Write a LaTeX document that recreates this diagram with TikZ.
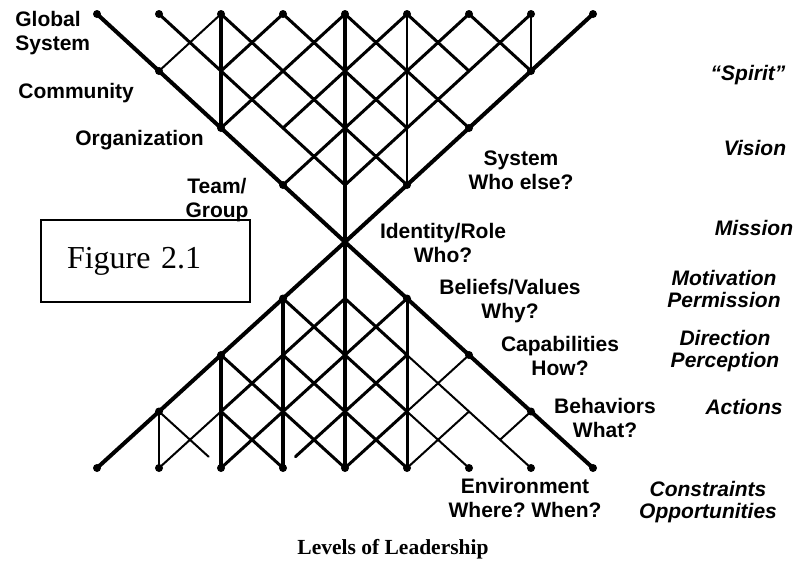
\documentclass[tikz,border=0pt]{standalone}
\usepackage{fontspec}
\setmainfont{Liberation Serif}
\newfontfamily\lvlfont{Liberation Sans}
\usetikzlibrary{positioning}
\frenchspacing
\tikzset{
    rim/.style={line width=2pt, line cap=round},
    mesh/.style={line width=1.5pt, line cap=round},
    thinmesh/.style={line width=1pt, line cap=round},
    stem/.style={line width=2.3pt},
    dot/.style={circle, fill, inner sep=0pt, minimum size=4pt},
    lvltext/.style={font=\lvlfont\bfseries\fontsize{10.5}{12}\selectfont, align=center, inner sep=0pt},
    effecttext/.style={font=\lvlfont\bfseries\itshape\fontsize{10.5}{11}\selectfont, align=center, inner sep=0pt},
    figbox/.style={draw, line width=0.8pt, text width=78.5pt, inner xsep=13pt, minimum height=41pt, align=left, font=\fontsize{16}{19}\selectfont},
    caption/.style={font=\bfseries\fontsize{10.75}{12}\selectfont, inner sep=0pt}
}

\begin{document}
\begin{tikzpicture}[x=0.5pt, y=-0.5pt]
\useasboundingbox (0,0) rectangle (797,574);
\coordinate (mid) at (345,242);

% upper half, levels going up
\begin{scope}[shift={(mid)}, x=31pt, y=28.5pt]
    \draw[rim] (-4,4) -- (0,0) -- (4,4);
    \foreach \c in {1,...,5} {
        \pgfmathtruncatemacro\h{floor(\c/2)}
        \draw[mesh] (\c-4,4) -- (\h,\c-\h);
        \draw[mesh] (4-\c,4) -- (-\h,\c-\h);
    }
    \draw[mesh] (2,4) -- (3,3);
    \draw[thinmesh] (-2,4) -- (-3,3);
    \draw[stem] (0,4) -- (0,0);
    \draw[stem] (-2,4) -- (-2,2);
    \draw[thinmesh] (1,4) -- (1,1);
    \draw[thinmesh] (3,4) -- (3,3);
    \foreach \i in {-4,...,4}
        \node[dot] (top\i) at (\i,4) {};
    \foreach \i in {1,2,3} {
        \node[dot] (ul\i) at (-\i,\i) {};
        \node[dot] (ur\i) at (\i,\i) {};
    }
\end{scope}

% lower half, levels going down
\begin{scope}[shift={(mid)}, x=31pt, y=-28.25pt]
    \draw[rim] (-4,4) -- (0,0) -- (4,4);
    \foreach \ax/\ay/\bx/\by in {0/1/1/2, -1/1/1/3, -1/2/1/4, -2/2/0/4, -2/3/-1/4,
                                 0/1/-2/3, 1/1/-2/4, 1/3/0/4}
        \draw[mesh] (\ax,\ay) -- (\bx,\by);
    \foreach \ax/\ay/\bx/\by in {1/2/3/4, 1/3/2/4, 2/2/1/3, 2/3/1/4, -2/3/-3/4}
        \draw[thinmesh] (\ax,\ay) -- (\bx,\by);
    \draw[mesh] (1,2) -- (-0.8,3.8);
    \draw[thinmesh] (-3,3) -- (-2.2,3.8);
    \draw[thinmesh] (3,3) -- (2.5,3.5);
    \draw[stem] (0,0) -- (0,4);
    \draw[stem] (-1,1) -- (-1,4);
    \draw[stem] (-2,2) -- (-2,4);
    \draw[mesh] (1,1) -- (1,4);
    \draw[thinmesh] (-3,3) -- (-3,4);
    \foreach \i in {-4,...,4}
        \node[dot] (bot\i) at (\i,4) {};
    \foreach \i in {1,2,3} {
        \node[dot] (ll\i) at (-\i,\i) {};
        \node[dot] (lr\i) at (\i,\i) {};
    }
\end{scope}

% levels
\node[lvltext, anchor=west, align=left] (global) at (15,33) {Global\\System};
\node[lvltext, anchor=west] (community) at (18,93) {Community};
\node[lvltext, anchor=west] (organization) at (75,140) {Organization};
\node[lvltext] (team) at (217,200) {Team/\\Group};
\node[lvltext] (system) at (521,170) {System\\Who else?};
\node[lvltext] (identity) at (443,243) {Identity/Role\\Who?};
\node[lvltext] (beliefs) at (510,301) {Beliefs/Values\\Why?};
\node[lvltext] (capabilities) at (560,356) {Capabilities\\How?};
\node[lvltext] (behaviors) at (605,418) {Behaviors\\What?};
\node[lvltext] (environment) at (525,498) {Environment\\Where? When?};

% what each level gives
\node[effecttext] (spirit) at (748,75) {“Spirit”};
\node[effecttext] (vision) at (755,148) {Vision};
\node[effecttext] (mission) at (754,228) {Mission};
\node[effecttext] (motivation) at (724,289) {Motivation\\Permission};
\node[effecttext] (direction) at (725,351) {Direction\\Perception};
\node[effecttext] (actions) at (744,407) {Actions};
\node[effecttext] (constraints) at (708,502) {Constraints\\Opportunities};

\node[figbox] (fig) at (145.5,261) {Figure 2.1};
\node[caption] (title) at (393,549) {Levels of Leadership};
\end{tikzpicture}
\end{document}
